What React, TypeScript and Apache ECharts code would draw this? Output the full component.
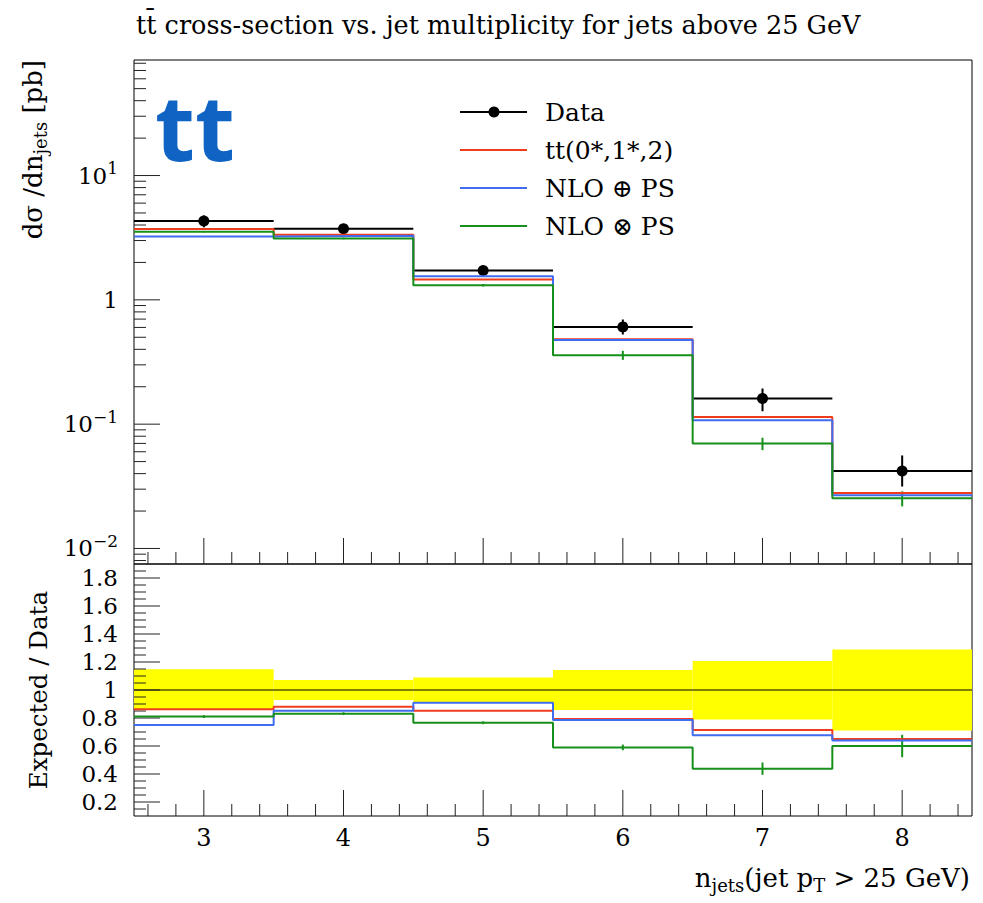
import React, { useEffect, useRef } from "react";
import * as echarts from "echarts";

// ---------- data ----------
const binEdges = [2.5, 3.5, 4.5, 5.5, 6.5, 7.5, 8.5];
const binCenters = [3, 4, 5, 6, 7, 8];

const dataVal = [4.3, 3.73, 1.72, 0.606, 0.161, 0.042];
const dataLo = [3.83, 3.48, 1.64, 0.526, 0.127, 0.0315];
const dataHi = [4.78, 4.0, 1.8, 0.695, 0.1935, 0.056];

const ttVal = [3.71, 3.34, 1.46, 0.482, 0.114, 0.0279];
const nloPlusVal = [3.24, 3.28, 1.55, 0.476, 0.1075, 0.0268];
const nloTimesVal = [3.53, 3.12, 1.31, 0.359, 0.0698, 0.0253];
const nloTimesErr = [0.05, 0.05, 0.03, 0.03, 0.008, 0.0035];

const bandLo = [0.857, 0.929, 0.91, 0.857, 0.79, 0.71];
const bandHi = [1.148, 1.071, 1.09, 1.143, 1.207, 1.29];
const ttRatio = [0.862, 0.881, 0.852, 0.792, 0.714, 0.65];
const nloPlusRatio = [0.75, 0.852, 0.909, 0.786, 0.676, 0.64];
const nloTimesRatio = [0.81, 0.831, 0.766, 0.59, 0.438, 0.6];
const nloTimesRatioErr = [0.01, 0.01, 0.01, 0.02, 0.044, 0.08];

const xTickLabels = [3, 4, 5, 6, 7, 8];
const ratioTickLabels = [0.2, 0.4, 0.6, 0.8, 1, 1.2, 1.4, 1.6, 1.8];
const logMajorTicks = [0.01, 0.1, 1, 10];

const legendLabels = ["Data", "tt(0*,1*,2)", "NLO \u2295 PS", "NLO \u2297 PS"];

// ---------- styles ----------
const RED = "#f03c1e";
const BLUE = "#3f6cf0";
const GREEN = "#16901a";
const YELLOW = "#ffff00";
const SERIF = '"DejaVu Serif", serif';

const X_MIN = 2.5;
const X_MAX = 8.5;
const LOG_MIN = 0.0075;
const LOG_MAX = 85;
const R_MIN = 0.1;
const R_MAX = 1.9;

const stepData = (vals: number[]) => {
  const d = vals.map((v, i) => [binEdges[i], v]);
  d.push([binEdges[binEdges.length - 1], vals[vals.length - 1]]);
  return d;
};

// tick positions
const xMinor: number[] = [];
for (let k = 26; k <= 84; k += 2) {
  if (k % 10 !== 0) xMinor.push(k / 10);
}
const logMinor: number[] = [];
[0.001, 0.01, 0.1, 1, 10].forEach((d) => {
  for (let m = 2; m <= 9; m++) {
    const v = m * d;
    if (v > LOG_MIN && v < LOG_MAX) logMinor.push(v);
  }
});
const rMinor: number[] = [];
for (let k = 3; k <= 37; k++) {
  if (k % 4 !== 0) rMinor.push(k * 0.05);
}

const TICK_COLOR = "#222";
const MAJ = 26;
const MIN_LEN = 12;

function tickLine(x1: number, y1: number, x2: number, y2: number) {
  return {
    type: "line",
    shape: { x1, y1, x2, y2 },
    style: { stroke: TICK_COLOR, lineWidth: 1 },
  };
}

function makeTicksRenderer(yMajor: number[], yMinor: number[], yMinVal: number) {
  return (params: any, api: any) => {
    const children: any[] = [];
    yMajor.forEach((v) => {
      const p = api.coord([X_MIN, v]);
      children.push(tickLine(p[0], p[1], p[0] + MAJ, p[1]));
    });
    yMinor.forEach((v) => {
      const p = api.coord([X_MIN, v]);
      children.push(tickLine(p[0], p[1], p[0] + MIN_LEN, p[1]));
    });
    xTickLabels.forEach((v) => {
      const p = api.coord([v, yMinVal]);
      children.push(tickLine(p[0], p[1], p[0], p[1] - MAJ));
    });
    xMinor.forEach((v) => {
      const p = api.coord([v, yMinVal]);
      children.push(tickLine(p[0], p[1], p[0], p[1] - MIN_LEN));
    });
    return { type: "group", children };
  };
}

const dataRenderer = (params: any, api: any) => {
  const c = api.coord([api.value(0), api.value(1)]);
  const l = api.coord([api.value(4), api.value(1)]);
  const r = api.coord([api.value(5), api.value(1)]);
  const lo = api.coord([api.value(0), api.value(2)]);
  const hi = api.coord([api.value(0), api.value(3)]);
  return {
    type: "group",
    children: [
      { type: "line", shape: { x1: l[0], y1: c[1], x2: r[0], y2: c[1] }, style: { stroke: "#000", lineWidth: 2 } },
      { type: "line", shape: { x1: c[0], y1: hi[1], x2: c[0], y2: lo[1] }, style: { stroke: "#000", lineWidth: 2 } },
      { type: "circle", shape: { cx: c[0], cy: c[1], r: 5.5 }, style: { fill: "#000" } },
    ],
  };
};

const errTickRenderer = (color: string) => (params: any, api: any) => {
  const lo = api.coord([api.value(0), api.value(1) - api.value(2)]);
  const hi = api.coord([api.value(0), api.value(1) + api.value(2)]);
  return {
    type: "line",
    shape: { x1: lo[0], y1: lo[1], x2: hi[0], y2: hi[1] },
    style: { stroke: color, lineWidth: 2 },
  };
};

const bandRenderer = (params: any, api: any) => {
  const a = api.coord([api.value(0), api.value(3)]);
  const b = api.coord([api.value(1), api.value(2)]);
  return {
    type: "rect",
    shape: { x: a[0], y: a[1], width: b[0] - a[0], height: b[1] - a[1] },
    style: { fill: YELLOW },
  };
};

const unityRenderer = (params: any, api: any) => {
  const a = api.coord([X_MIN, 1]);
  const b = api.coord([X_MAX, 1]);
  return {
    type: "line",
    shape: { x1: a[0], y1: a[1], x2: b[0], y2: b[1] },
    style: { stroke: "#000", lineWidth: 1 },
  };
};

function buildOption() {
  const lineSeries = (name: string, data: number[][], color: string, xi: number, yi: number) => ({
    name,
    type: "line",
    xAxisIndex: xi,
    yAxisIndex: yi,
    data,
    step: "end",
    symbol: "none",
    showSymbol: false,
    silent: true,
    lineStyle: { color, width: 2 },
  });

  const legendRows = [112, 150, 188, 226];
  const legendColors = ["#000", RED, BLUE, GREEN];
  const legendGraphics: any[] = [];
  legendRows.forEach((y, i) => {
    legendGraphics.push({
      type: "line",
      shape: { x1: 460, y1: y, x2: 527, y2: y },
      style: { stroke: legendColors[i], lineWidth: 2 },
    });
    legendGraphics.push({
      type: "text",
      x: 545,
      y: y,
      style: {
        text: legendLabels[i],
        font: `25px ${SERIF}`,
        fill: "#000",
        textAlign: "left",
        textVerticalAlign: "middle",
      },
    });
  });
  legendGraphics.push({ type: "circle", shape: { cx: 494, cy: legendRows[0], r: 5.5 }, style: { fill: "#000" } });

  return {
    animation: false,
    backgroundColor: "#fff",
    textStyle: { fontFamily: SERIF },
    grid: [
      { left: 134, top: 60, width: 838, height: 504, show: true, borderColor: "#000", borderWidth: 1, backgroundColor: "transparent" },
      { left: 134, top: 564, width: 838, height: 252, show: true, borderColor: "#000", borderWidth: 1, backgroundColor: "transparent" },
    ],
    xAxis: [
      {
        type: "value", gridIndex: 0, min: X_MIN, max: X_MAX,
        axisLine: { show: false }, axisTick: { show: false }, axisLabel: { show: false }, splitLine: { show: false },
      },
      {
        type: "value", gridIndex: 1, min: X_MIN, max: X_MAX,
        axisLine: { show: false }, axisTick: { show: false }, splitLine: { show: false },
        axisLabel: { customValues: xTickLabels, color: "#000", fontFamily: SERIF, fontSize: 24, margin: 10 },
      },
    ],
    yAxis: [
      {
        type: "log", logBase: 10, gridIndex: 0, min: LOG_MIN, max: LOG_MAX,
        axisLine: { show: false }, axisTick: { show: false }, splitLine: { show: false }, minorSplitLine: { show: false },
        axisLabel: {
          color: "#000",
          fontFamily: SERIF,
          fontSize: 23,
          margin: 16,
          formatter: (v: number) => {
            const e = Math.log10(v);
            const r = Math.round(e);
            if (Math.abs(e - r) > 1e-6) return "";
            if (r === 0) return "{n|1}";
            return "{n|10}{s|" + (r < 0 ? "\u2212" + -r : String(r)) + "}";
          },
          rich: {
            n: { fontFamily: SERIF, fontSize: 23, lineHeight: 32, verticalAlign: "middle", color: "#000" },
            s: { fontFamily: SERIF, fontSize: 17, lineHeight: 17, verticalAlign: "top", color: "#000" },
          },
        },
      },
      {
        type: "value", gridIndex: 1, min: R_MIN, max: R_MAX,
        axisLine: { show: false }, axisTick: { show: false }, splitLine: { show: false },
        axisLabel: { customValues: ratioTickLabels, color: "#000", fontFamily: SERIF, fontSize: 23, margin: 16 },
      },
    ],
    graphic: [
      {
        type: "text",
        x: 136,
        y: 25,
        style: {
          text: "tt\u0304 cross-section vs. jet multiplicity for jets above 25 GeV",
          font: `25.5px ${SERIF}`,
          fill: "#000",
          textAlign: "left",
          textVerticalAlign: "middle",
        },
      },
      {
        type: "text",
        x: 155,
        y: 125,
        style: {
          text: "tt",
          font: `bold 92px "Open Sans", sans-serif`,
          fill: "#0e63c3",
          textAlign: "left",
          textVerticalAlign: "middle",
        },
      },
      {
        type: "text",
        x: 33,
        y: 60,
        rotation: Math.PI / 2,
        style: {
          text: "d\u03c3 /dn{sub|jets} [pb]",
          font: `26px ${SERIF}`,
          lineHeight: 32,
          fill: "#000",
          textAlign: "right",
          textVerticalAlign: "middle",
          rich: {
            sub: { font: `18px ${SERIF}`, lineHeight: 18, verticalAlign: "bottom" },
          },
        },
      },
      {
        type: "text",
        x: 38,
        y: 591,
        rotation: Math.PI / 2,
        style: {
          text: "Expected / Data",
          font: `24.5px ${SERIF}`,
          fill: "#000",
          textAlign: "right",
          textVerticalAlign: "middle",
        },
      },
      {
        type: "text",
        x: 970,
        y: 878,
        style: {
          text: "n{sub|jets}(jet p{sub|T} > 25 GeV)",
          font: `26px ${SERIF}`,
          lineHeight: 32,
          fill: "#000",
          textAlign: "right",
          textVerticalAlign: "middle",
          rich: {
            sub: { font: `18px ${SERIF}`, lineHeight: 18, verticalAlign: "bottom" },
          },
        },
      },
      ...legendGraphics,
    ],
    series: [
      // ---- top panel ----
      lineSeries("tt(0*,1*,2)", stepData(ttVal), RED, 0, 0),
      lineSeries("NLO \u2295 PS", stepData(nloPlusVal), BLUE, 0, 0),
      lineSeries("NLO \u2297 PS", stepData(nloTimesVal), GREEN, 0, 0),
      {
        name: "NLO \u2297 PS err",
        type: "custom",
        xAxisIndex: 0,
        yAxisIndex: 0,
        silent: true,
        data: nloTimesVal.map((v, i) => [binCenters[i], v, nloTimesErr[i]]),
        encode: { x: 0, y: 1 },
        renderItem: errTickRenderer(GREEN),
      },
      {
        name: "Data",
        type: "custom",
        xAxisIndex: 0,
        yAxisIndex: 0,
        silent: true,
        data: dataVal.map((v, i) => [binCenters[i], v, dataLo[i], dataHi[i], binEdges[i], binEdges[i + 1]]),
        encode: { x: 0, y: 1 },
        renderItem: dataRenderer,
      },
      {
        name: "ticksTop",
        type: "custom",
        xAxisIndex: 0,
        yAxisIndex: 0,
        silent: true,
        data: [[X_MIN, 1]],
        encode: { x: 0, y: 1 },
        renderItem: makeTicksRenderer(logMajorTicks, logMinor, LOG_MIN),
      },
      // ---- ratio panel ----
      {
        name: "band",
        type: "custom",
        xAxisIndex: 1,
        yAxisIndex: 1,
        silent: true,
        data: bandLo.map((lo, i) => [binEdges[i], binEdges[i + 1], lo, bandHi[i]]),
        encode: { x: [0, 1], y: [2, 3] },
        renderItem: bandRenderer,
      },
      {
        name: "unity",
        type: "custom",
        xAxisIndex: 1,
        yAxisIndex: 1,
        silent: true,
        data: [[X_MIN, 1]],
        encode: { x: 0, y: 1 },
        renderItem: unityRenderer,
      },
      lineSeries("ratio tt", stepData(ttRatio), RED, 1, 1),
      lineSeries("ratio plus", stepData(nloPlusRatio), BLUE, 1, 1),
      lineSeries("ratio times", stepData(nloTimesRatio), GREEN, 1, 1),
      {
        name: "ratio times err",
        type: "custom",
        xAxisIndex: 1,
        yAxisIndex: 1,
        silent: true,
        data: nloTimesRatio.map((v, i) => [binCenters[i], v, nloTimesRatioErr[i]]),
        encode: { x: 0, y: 1 },
        renderItem: errTickRenderer(GREEN),
      },
      {
        name: "ticksBottom",
        type: "custom",
        xAxisIndex: 1,
        yAxisIndex: 1,
        silent: true,
        data: [[X_MIN, 1]],
        encode: { x: 0, y: 1 },
        renderItem: makeTicksRenderer(ratioTickLabels, rMinor, R_MIN),
      },
    ],
  };
}

export default function App() {
  const ref = useRef<HTMLDivElement>(null);
  useEffect(() => {
    if (!ref.current) return;
    const chart = echarts.init(ref.current, undefined, { renderer: "svg" });
    chart.setOption(buildOption() as any);
    return () => chart.dispose();
  }, []);
  return (
    <div
      ref={ref}
      style={{ position: "fixed", left: 0, top: 0, width: 983, height: 903, background: "#fff" }}
    />
  );
}
